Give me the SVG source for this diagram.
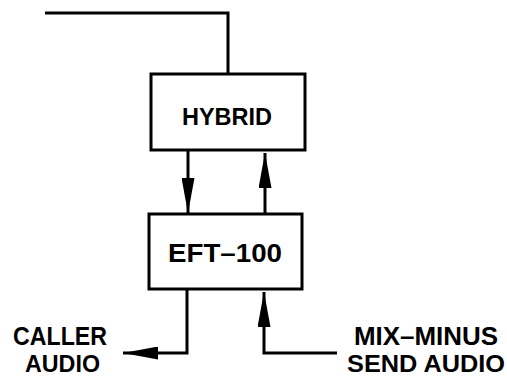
<svg xmlns="http://www.w3.org/2000/svg" width="507" height="378" viewBox="0 0 507 378">
<style>
.box{fill:#fff;stroke:#000;stroke-width:3}
.wire{fill:none;stroke:#000;stroke-width:3}
.lbl{font-family:"Liberation Sans",Arial,sans-serif;font-weight:bold;font-size:26px;fill:#000}
.top{font-size:25px}
.bot{font-size:24px}
</style>
<defs>
<marker id="ah" viewBox="0 0 35 13" refX="35" refY="6.5" markerWidth="35" markerHeight="13" markerUnits="userSpaceOnUse" orient="auto">
<path d="M0,0 L35,6.5 L0,13 Z" fill="#000"/>
</marker>
</defs>
<rect width="507" height="378" fill="#fff"/>
<g id="connectors">
<path class="wire" d="M45,13 H228 V74"/>
<path class="wire" d="M188,150 V213" marker-end="url(#ah)"/>
<path class="wire" d="M265,214 V153" marker-end="url(#ah)"/>
<path class="wire" d="M187,289 V353 H123" marker-end="url(#ah)"/>
<path class="wire" d="M337,353 H264 V292" marker-end="url(#ah)"/>
</g>
<g id="hybrid">
<rect class="box" x="151" y="74" width="154" height="76"/>
<text class="lbl" x="182" y="125" style="font-size:24px" textLength="90" lengthAdjust="spacingAndGlyphs">HYBRID</text>
</g>
<g id="eft100">
<rect class="box" x="149" y="214" width="153" height="75"/>
<text class="lbl" x="168" y="262" textLength="114" lengthAdjust="spacingAndGlyphs">EFT–100</text>
</g>
<g id="caller-audio">
<text class="lbl top" x="13" y="345" textLength="94" lengthAdjust="spacingAndGlyphs">CALLER</text>
<text class="lbl bot" x="25" y="372" textLength="75" lengthAdjust="spacingAndGlyphs">AUDIO</text>
</g>
<g id="mix-minus">
<text class="lbl top" x="354" y="345" textLength="144" lengthAdjust="spacingAndGlyphs">MIX–MINUS</text>
<text class="lbl bot" x="347" y="372" textLength="158" lengthAdjust="spacingAndGlyphs">SEND  AUDIO</text>
</g>
</svg>
